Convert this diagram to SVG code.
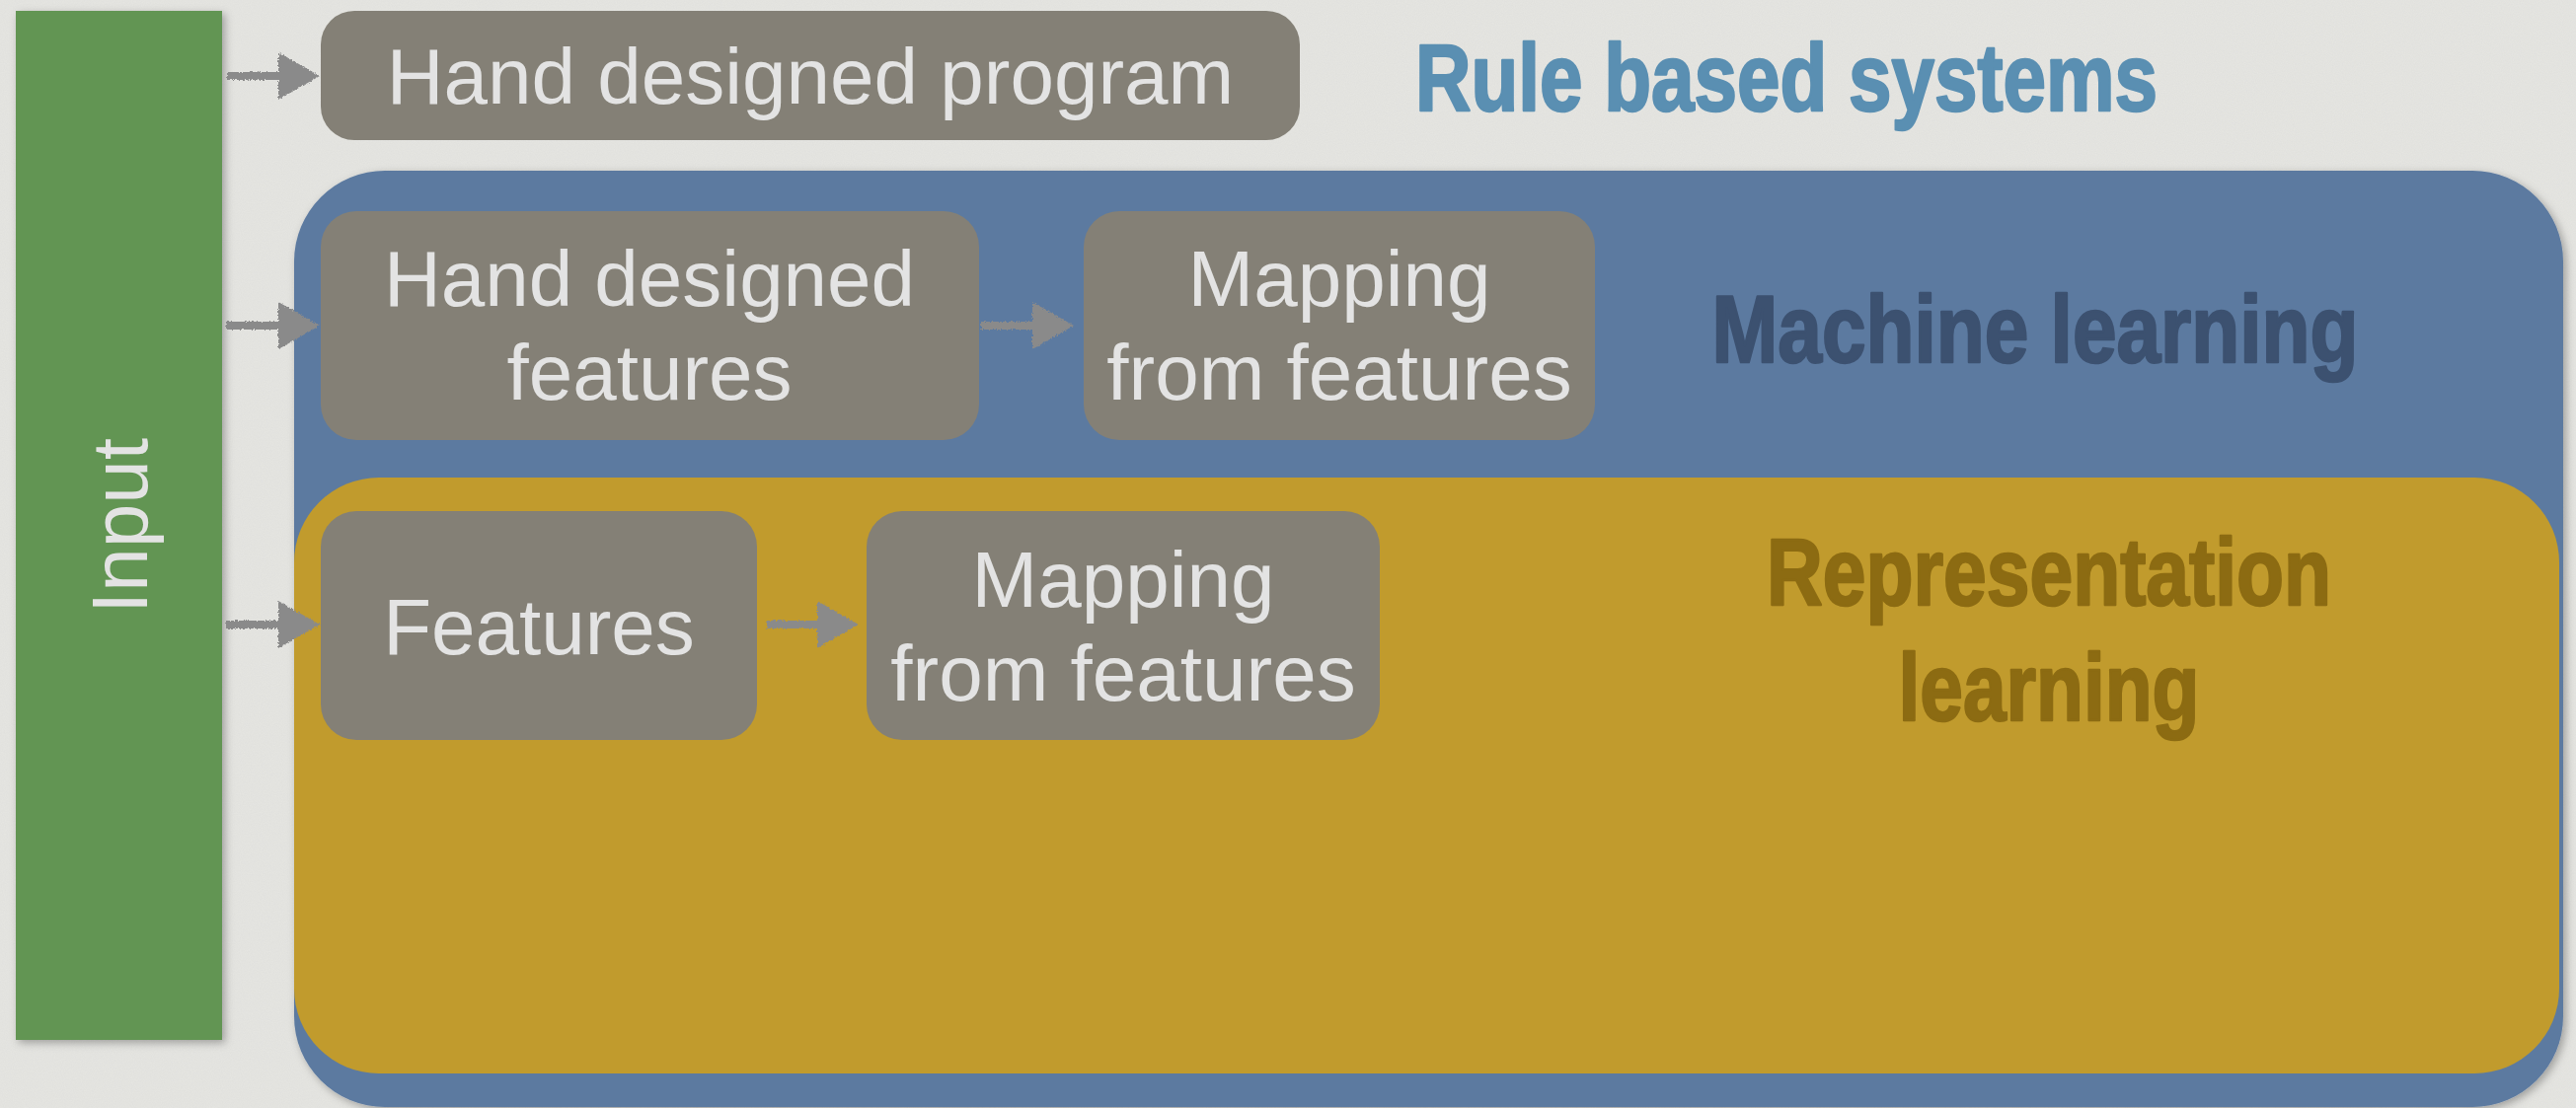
<svg xmlns="http://www.w3.org/2000/svg" width="2610" height="1123" viewBox="0 0 2610 1123">
  <style>
    .lbl { font-family: "Liberation Sans", Arial, sans-serif; font-size: 80px; fill: #e3e3e3; text-anchor: middle; }
    .head { font-family: "Liberation Sans", Arial, sans-serif; font-weight: bold; font-size: 96px; text-anchor: middle; stroke-width: 2.5; stroke-linejoin: round; }
    .gbox { fill: #848076; }
    .conn { fill: none; stroke: #8a8a8a; stroke-width: 8; }
  </style>
  <defs>
    <filter id="paper" x="0" y="0" width="100%" height="100%">
      <feTurbulence type="fractalNoise" baseFrequency="0.9" numOctaves="2" seed="3" result="n"/>
      <feColorMatrix type="matrix" values="0 0 0 0 0.5  0 0 0 0 0.5  0 0 0 0 0.5  0 0 0 0.15 0"/>
    </filter>
    <filter id="shadow" x="-5%" y="-5%" width="115%" height="115%">
      <feDropShadow dx="3" dy="3" stdDeviation="4" flood-color="#000" flood-opacity="0.3"/>
    </filter>
    <filter id="rough" x="-10%" y="-50%" width="120%" height="200%">
      <feTurbulence type="fractalNoise" baseFrequency="0.6" numOctaves="2" seed="7" result="t"/>
      <feDisplacementMap in="SourceGraphic" in2="t" scale="4" xChannelSelector="R" yChannelSelector="G"/>
    </filter>
    <marker id="arrow" markerUnits="userSpaceOnUse" markerWidth="42" markerHeight="48" viewBox="0 0 42 48" refX="8" refY="24" orient="auto">
      <polygon points="0,0 42,24 0,48" fill="#8a8a8a"/>
    </marker>
  </defs>

  <rect x="0" y="0" width="2610" height="1123" fill="#e6e6e2"/>
  <rect x="0" y="0" width="2610" height="1123" filter="url(#paper)"/>

  <g id="input">
    <rect x="16" y="11" width="209" height="1043" fill="#629552" filter="url(#shadow)"/>
    <text class="lbl" transform="translate(149,533) rotate(-90)" x="0" y="0">Input</text>
  </g>

  <g id="machine-learning">
    <rect x="298" y="173" width="2299" height="949" rx="92" ry="92" fill="#5c7aa0" filter="url(#shadow)"/>
    <text class="head" x="2062" y="367" fill="#3c5170" stroke="#3c5170" textLength="655" lengthAdjust="spacingAndGlyphs">Machine learning</text>
  </g>

  <g id="representation-learning">
    <rect x="298" y="484" width="2295" height="604" rx="86" ry="86" fill="#c19b2d"/>
    <text class="head" x="2076" y="613" fill="#8c6b12" stroke="#8c6b12" textLength="572" lengthAdjust="spacingAndGlyphs">Representation</text>
    <text class="head" x="2076" y="730" fill="#8c6b12" stroke="#8c6b12" textLength="305" lengthAdjust="spacingAndGlyphs">learning</text>
  </g>

  <g id="rule-based">
    <text class="head" x="1810" y="112" fill="#5a8fb2" stroke="#5a8fb2" textLength="752" lengthAdjust="spacingAndGlyphs">Rule based systems</text>
  </g>

  <g id="hand-designed-program">
    <rect class="gbox" x="325" y="11" width="992" height="131" rx="34" ry="34"/>
    <text class="lbl" x="821" y="105">Hand designed program</text>
  </g>

  <g id="hand-designed-features">
    <rect class="gbox" x="325" y="214" width="667" height="232" rx="36" ry="36"/>
    <text class="lbl" x="658" y="310">Hand designed</text>
    <text class="lbl" x="658" y="405">features</text>
  </g>

  <g id="mapping-ml">
    <rect class="gbox" x="1098" y="214" width="518" height="232" rx="36" ry="36"/>
    <text class="lbl" x="1357" y="310">Mapping</text>
    <text class="lbl" x="1357" y="405">from features</text>
  </g>

  <g id="features">
    <rect class="gbox" x="325" y="518" width="442" height="232" rx="36" ry="36"/>
    <text class="lbl" x="546" y="663">Features</text>
  </g>

  <g id="mapping-rl">
    <rect class="gbox" x="878" y="518" width="520" height="232" rx="36" ry="36"/>
    <text class="lbl" x="1138" y="615">Mapping</text>
    <text class="lbl" x="1138" y="710">from features</text>
  </g>

  <g id="connectors" filter="url(#rough)">
    <path class="conn" d="M230,77 L290,77" marker-end="url(#arrow)"/>
    <path class="conn" d="M229,330 L290,330" marker-end="url(#arrow)"/>
    <path class="conn" d="M994,330 L1054,330" marker-end="url(#arrow)"/>
    <path class="conn" d="M229,633 L290,633" marker-end="url(#arrow)"/>
    <path class="conn" d="M777,633 L836,633" marker-end="url(#arrow)"/>
  </g>
</svg>
